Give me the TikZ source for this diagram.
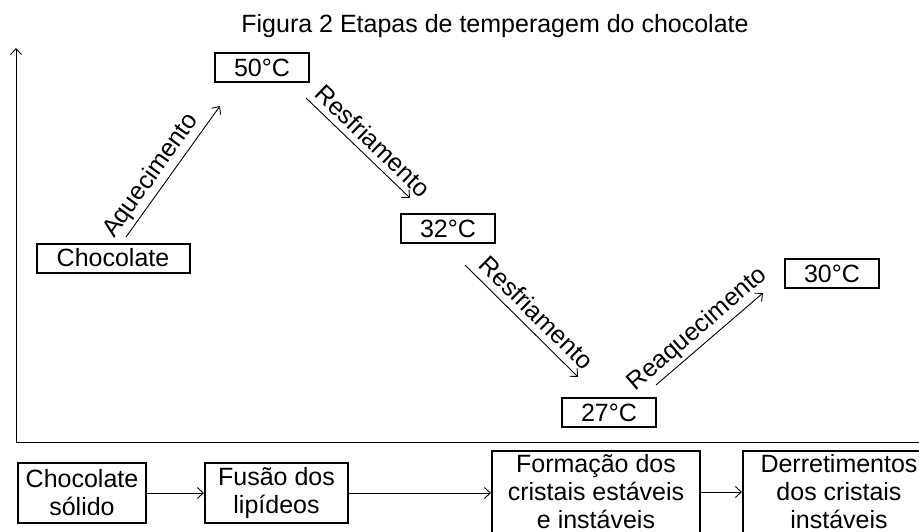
\documentclass[tikz,border=0pt]{standalone}
\usepackage{fontspec}
\setmainfont{Liberation Sans}
\usetikzlibrary{arrows.meta}
\tikzstyle{tempbox}=[draw, line width=2pt, minimum width=94pt, minimum height=29pt, inner sep=0pt]
\tikzstyle{stagebox}=[draw, line width=2pt, align=center, inner sep=0pt, minimum height=60pt]
\tikzstyle{stage arrow}=[draw, -{Straight Barb[length=6pt, width=11pt]}, line width=0.9pt]
\tikzstyle{arrow label}=[sloped, above, inner sep=3pt]

\begin{document}
\begin{tikzpicture}[x=1pt, y=-1pt, font=\fontsize{25}{28}\selectfont]
        \useasboundingbox (0,0) rectangle (919,532);
        \clip (0,0) rectangle (919,532);
        \node[anchor=base] (title) at (495,33) {Figura 2 Etapas de temperagem do chocolate};
        % axes
        \coordinate (origin) at (16,442);
        \coordinate (ytop) at (16,48);
        \coordinate (xend) at (919,442);
        \path[stage arrow] (origin) -- (ytop);
        \draw[line width=0.9pt] (origin) -- (xend);
        % temperature curve
        \node[tempbox, minimum width=153pt] (choc) at (113,258) {Chocolate};
        \foreach \pos/\name/\txt in {{(262,67.5)/t50/50°C}, {(448,228.5)/t32/32°C}, {(609,412.5)/t27/27°C}, {(832,273.5)/t30/30°C}}
            \node[tempbox] (\name) at \pos {\txt};
        \coordinate (a1) at (126,237);
        \coordinate (a2) at (220,106);
        \coordinate (b1) at (306,98);
        \coordinate (b2) at (410,198);
        \coordinate (c1) at (465,265);
        \coordinate (c2) at (578,377);
        \coordinate (d1) at (656,385);
        \coordinate (d2) at (763,293);
        \path[stage arrow] (a1) -- node[arrow label, pos=0.4] {Aquecimento} (a2);
        \path[stage arrow] (b1) -- node[arrow label, pos=0.54, inner sep=6pt] {Resfriamento} (b2);
        \path[stage arrow] (c1) -- node[arrow label, pos=0.53, inner sep=7pt] {Resfriamento} (c2);
        \path[stage arrow] (d1) -- node[arrow label, pos=0.48] {Reaquecimento} (d2);
        % stages
        \node[stagebox, minimum width=128pt] (solid) at (82,493) {Chocolate\\sólido};
        \node[stagebox, minimum width=143pt] (fusion) at (276.5,493) {Fusão dos\\lipídeos};
        \node[stagebox, minimum width=208pt, minimum height=82pt] (crystals) at (596,492) {Formação dos\\cristais estáveis\\e instáveis};
        \node[stagebox, minimum width=192pt, minimum height=82pt] (melting) at (839,492) {Derretimentos\\dos cristais\\instáveis};
        \foreach \source/\dest in {solid/fusion, fusion/crystals, crystals/melting}
            \path[stage arrow] (\source.east) -- (\source.east -| \dest.west);
    \end{tikzpicture}
\end{document}
